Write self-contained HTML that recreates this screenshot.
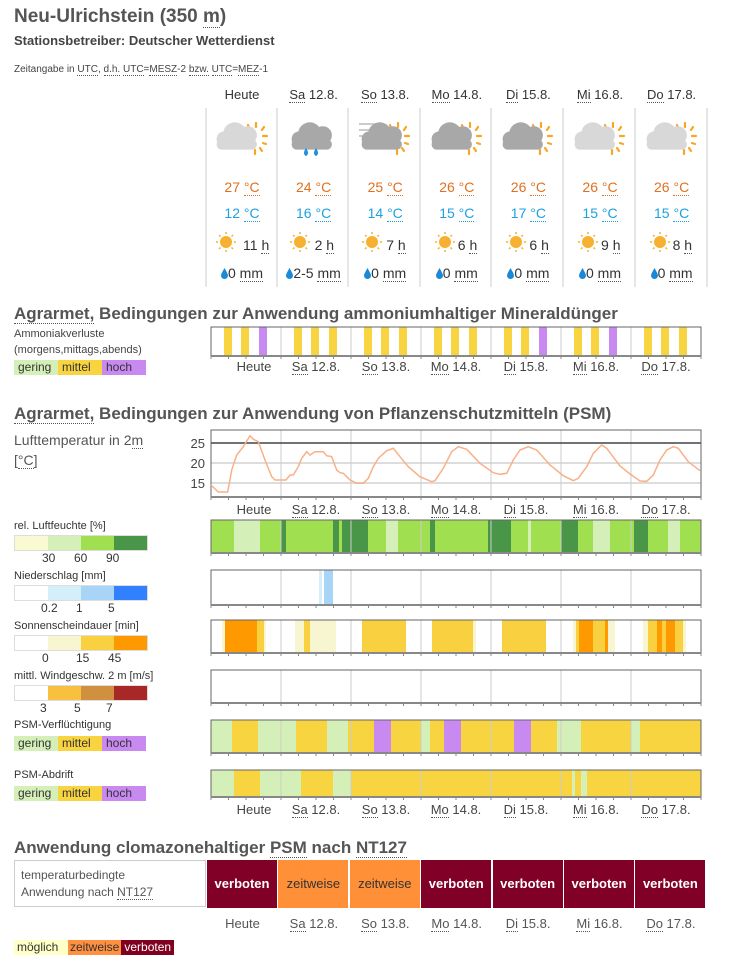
<!DOCTYPE html>
<html><head><meta charset="utf-8"><style>
body{margin:0;width:729px;height:970px;background:#fff;font-family:"Liberation Sans",Arial,sans-serif;color:#333;position:relative;overflow:hidden}
.a{position:absolute;white-space:nowrap}
u{text-decoration:none;border-bottom:1px dotted #555}
.c{position:absolute;text-align:center;white-space:nowrap}
.lg{position:absolute;height:15px;font-size:12px;line-height:15px}
.lg span{display:inline-block;height:15px;padding:0 4px;vertical-align:top}
.sc{position:absolute;height:14px;font-size:12px;border:1px solid #ddd}
.sc span{display:inline-block;width:33px;height:14px;vertical-align:top}
.sn{position:absolute;font-size:12px}
</style></head><body>
<div class="a" style="left:14px;top:6px;font-size:19px;font-weight:bold;color:#555">Neu-Ulrichstein (350 <u>m</u>)</div>
<div class="a" style="left:14px;top:33px;font-size:13px;font-weight:bold;color:#444">Stationsbetreiber: Deutscher Wetterdienst</div>
<div class="a" style="left:14px;top:64px;font-size:10px;color:#444">Zeitangabe in <u>UTC</u>, <u>d.h.</u> <u>UTC</u>=<u>MESZ</u>-2 <u>bzw.</u> <u>UTC</u>=<u>MEZ</u>-1</div>

<svg class="a" style="left:0;top:0" width="729" height="300">
<g stroke="#ddd" stroke-width="1.5">
<line x1="206" y1="108" x2="206" y2="287"/><line x1="277" y1="108" x2="277" y2="287"/><line x1="348" y1="108" x2="348" y2="287"/><line x1="420" y1="108" x2="420" y2="287"/><line x1="491" y1="108" x2="491" y2="287"/><line x1="563" y1="108" x2="563" y2="287"/><line x1="635" y1="108" x2="635" y2="287"/><line x1="707" y1="108" x2="707" y2="287"/>
</g>
<defs>
<g id="sun"><g stroke="#f8a820" stroke-width="2.2" stroke-linecap="round"><line x1="14" y1="-15" x2="14" y2="-11"/><line x1="22" y1="-11" x2="20" y2="-8"/><line x1="25" y1="-2" x2="21" y2="-2"/><line x1="24" y1="6" x2="21" y2="5"/><line x1="20" y1="13" x2="18" y2="10"/><line x1="13" y1="16" x2="13" y2="12"/><line x1="6" y1="-13" x2="7" y2="-10"/></g></g>
<g id="cl"><circle cx="-4" cy="0" r="9"/><circle cx="6" cy="1" r="7"/><circle cx="-12" cy="4" r="6"/><rect x="-18" y="4" width="31" height="8" rx="4"/></g>
<g id="ss"><circle r="6" fill="#f8b030"/><g stroke="#f8b030" stroke-width="1.5"><line x1="0" y1="-10" x2="0" y2="-8"/><line x1="0" y1="8" x2="0" y2="10"/><line x1="-10" y1="0" x2="-8" y2="0"/><line x1="8" y1="0" x2="10" y2="0"/><line x1="-7" y1="-7" x2="-5.5" y2="-5.5"/><line x1="7" y1="7" x2="5.5" y2="5.5"/><line x1="-7" y1="7" x2="-5.5" y2="5.5"/><line x1="7" y1="-7" x2="5.5" y2="-5.5"/></g></g>
</defs>
<use href="#sun" x="242" y="138"/><use href="#cl" transform="translate(240,134) scale(1.3)" fill="#d8d8d8"/>
<use href="#cl" transform="translate(315,134) scale(1.3)" fill="#a8a8a8"/><path d="M306 148q4 6 0 8q-4-2 0-8M316 148q4 6 0 8q-4-2 0-8" fill="#2090e0"/>
<use href="#sun" x="384" y="138"/><g stroke="#ccc" stroke-width="2"><line x1="359" y1="124" x2="383" y2="124"/><line x1="359" y1="130" x2="377" y2="130"/><line x1="359" y1="136" x2="370" y2="136"/></g><use href="#cl" transform="translate(385,134) scale(1.3)" fill="#a8a8a8"/>
<use href="#sun" x="456" y="138"/><use href="#cl" transform="translate(455,134) scale(1.3)" fill="#a8a8a8"/>
<use href="#sun" x="527" y="138"/><use href="#cl" transform="translate(526,134) scale(1.3)" fill="#a8a8a8"/>
<use href="#sun" x="599" y="138"/><use href="#cl" transform="translate(598,134) scale(1.3)" fill="#d8d8d8"/>
<use href="#sun" x="671" y="138"/><use href="#cl" transform="translate(670,134) scale(1.3)" fill="#d8d8d8"/>
<use href="#ss" x="226" y="242"/><use href="#ss" x="300" y="242"/><use href="#ss" x="372" y="242"/><use href="#ss" x="445" y="242"/><use href="#ss" x="516" y="242"/><use href="#ss" x="588" y="242"/><use href="#ss" x="660" y="242"/>
</svg>
<div id="fc"></div>
<script>
var d=["Heute","<u>Sa</u> 12.8.","<u>So</u> 13.8.","<u>Mo</u> 14.8.","<u>Di</u> 15.8.","<u>Mi</u> 16.8.","<u>Do</u> 17.8."],hi=[27,24,25,26,26,26,26],lo=[12,16,14,15,17,15,15],sh=[11,2,7,6,6,9,8],rr=["0","2-5","0","0","0","0","0"],h="";
var drop='<svg width="7" height="11" style="vertical-align:-1px"><path d="M3.5 0Q7 6 7 7.5A3.5 3.5 0 0 1 0 7.5Q0 6 3.5 0Z" fill="#1a8ad8"/></svg>';
for(var i=0;i<7;i++){var cx=242+i*71.6;
h+='<div class="c" style="left:'+(cx-40)+'px;width:80px;top:87px;font-size:13px">'+d[i]+'</div>';
h+='<div class="c" style="left:'+(cx-40)+'px;width:80px;top:179px;font-size:14px;color:#e07020">'+hi[i]+' <u style="border-color:#e07020">°C</u></div>';
h+='<div class="c" style="left:'+(cx-40)+'px;width:80px;top:205px;font-size:14px;color:#1ea0e0">'+lo[i]+' <u style="border-color:#1ea0e0">°C</u></div>';
h+='<div class="a" style="left:'+(cx+1)+'px;top:237px;font-size:14px;color:#333">'+sh[i]+' <u>h</u></div>';
h+='<div class="c" style="left:'+(cx-40)+'px;width:80px;top:265px;font-size:14px">'+drop+rr[i]+' <u>mm</u></div>';}
document.getElementById('fc').innerHTML=h;
</script>

<div class="a" style="left:14px;top:304px;font-size:17px;font-weight:bold;color:#555"><u>Agrarmet,</u> Bedingungen zur Anwendung ammoniumhaltiger Mineraldünger</div>
<div class="a" style="left:14px;top:328px;font-size:11px;color:#444">Ammoniakverluste</div>
<div class="a" style="left:14px;top:344px;font-size:11px;color:#444">(morgens,mittags,abends)</div>
<div class="lg" style="left:14px;top:360px"><span style="background:#d4f0b8;width:36px">gering</span><span style="background:#f8d440;width:36px">mittel</span><span style="background:#c88af0;width:36px">hoch</span></div>

<div class="a" style="left:14px;top:404px;font-size:17px;font-weight:bold;color:#555"><u>Agrarmet,</u> Bedingungen zur Anwendung von Pflanzenschutzmitteln (PSM)</div>
<div class="a" style="left:14px;top:430px;font-size:14px;color:#555;line-height:20px">Lufttemperatur in 2<u>m</u><br>[<u>°C</u>]</div>

<div class="a" style="left:14px;top:520px;font-size:11px">rel. Luftfeuchte [%]</div>
<div class="sc" style="left:14px;top:535px"><span style="background:#fafad2"></span><span style="background:#d4f0b8"></span><span style="background:#a0e050"></span><span style="background:#4a9648"></span></div>
<div class="sn" style="left:42px;top:551px">30</div><div class="sn" style="left:74px;top:551px">60</div><div class="sn" style="left:106px;top:551px">90</div>
<div class="a" style="left:14px;top:570px;font-size:11px">Niederschlag [mm]</div>
<div class="sc" style="left:14px;top:585px"><span style="background:#fff"></span><span style="background:#d4eefa"></span><span style="background:#a8d4f8"></span><span style="background:#3080ff"></span></div>
<div class="sn" style="left:41px;top:601px">0.2</div><div class="sn" style="left:76px;top:601px">1</div><div class="sn" style="left:108px;top:601px">5</div>
<div class="a" style="left:14px;top:620px;font-size:11px">Sonnenscheindauer [min]</div>
<div class="sc" style="left:14px;top:635px"><span style="background:#fff"></span><span style="background:#f8f6d0"></span><span style="background:#f8d040"></span><span style="background:#ff9900"></span></div>
<div class="sn" style="left:42px;top:651px">0</div><div class="sn" style="left:76px;top:651px">15</div><div class="sn" style="left:108px;top:651px">45</div>
<div class="a" style="left:14px;top:670px;font-size:11px">mittl. Windgeschw. 2 m [m/s]</div>
<div class="sc" style="left:14px;top:685px"><span style="background:#fff"></span><span style="background:#f8c040"></span><span style="background:#d09040"></span><span style="background:#a82828"></span></div>
<div class="sn" style="left:40px;top:701px">3</div><div class="sn" style="left:74px;top:701px">5</div><div class="sn" style="left:106px;top:701px">7</div>
<div class="a" style="left:14px;top:719px;font-size:11px">PSM-Verflüchtigung</div>
<div class="lg" style="left:14px;top:736px"><span style="background:#d4f0b8;width:36px">gering</span><span style="background:#f8d440;width:36px">mittel</span><span style="background:#c88af0;width:36px">hoch</span></div>
<div class="a" style="left:14px;top:769px;font-size:11px">PSM-Abdrift</div>
<div class="lg" style="left:14px;top:786px"><span style="background:#d4f0b8;width:36px">gering</span><span style="background:#f8d440;width:36px">mittel</span><span style="background:#c88af0;width:36px">hoch</span></div>

<svg id="ch" class="a" style="left:0;top:0" width="729" height="830"></svg>
<div id="lb"></div>

<div class="a" style="left:14px;top:838px;font-size:17px;font-weight:bold;color:#555">Anwendung clomazonehaltiger <u>PSM</u> nach <u>NT127</u></div>
<div class="a" style="left:14px;top:860px;width:192px;height:47px;border:1px solid #ccc;font-size:12px;color:#555;line-height:17px;padding:6px 0 0 6px;box-sizing:border-box">temperaturbedingte<br>Anwendung nach <u>NT127</u></div>
<div id="nt"></div>
<div class="lg" style="left:14px;top:940px"><span style="background:#ffffc8;width:48px;padding:0 3px">möglich</span><span style="background:#ff9040;color:#333;padding:0 2px">zeitweise</span><span style="background:#800020;color:#fff;padding:0 3px">verboten</span></div>

<script>
var g=document.getElementById('ch'),o='';
function R(x1,x2,y,h,c){o+='<rect x="'+x1+'" y="'+y+'" width="'+(x2-x1)+'" height="'+h+'" fill="'+c+'"/>';}
var L=211,W=490;
function frame(y,h){for(var k=1;k<7;k++)o+='<line x1="'+(L+k*70)+'" y1="'+y+'" x2="'+(L+k*70)+'" y2="'+(y+h)+'" stroke="#ccc" stroke-width="1"/>';
o+='<path d="M'+L+' '+(y+h)+'V'+y+'H'+(L+W)+'V'+(y+h)+'" fill="none" stroke="#666" stroke-width="1"/><line x1="'+L+'" y1="'+(y+h)+'" x2="'+(L+W)+'" y2="'+(y+h)+'" stroke="#888" stroke-width="2"/>';
for(var t=0;t<=28;t++)o+='<line x1="'+(L+t*17.5)+'" y1="'+(y+h)+'" x2="'+(L+t*17.5)+'" y2="'+(y+h+3)+'" stroke="#888"/>';}
function strip(y,h,segs){for(var i=0;i<segs.length;i++)R(segs[i][0],segs[i][1],y,h,segs[i][2]);frame(y,h);}
var Y='#f8d440',G='#d4f0b8',P='#c88af0';
var am=[];for(var dd=0;dd<7;dd++){var b=L+dd*70;var cs=[Y,Y,Y];if(dd==0||dd==4||dd==5)cs[2]=P;am.push([b+13,b+21,cs[0]],[b+30,b+38,cs[1]],[b+48,b+56,cs[2]]);}
strip(327,29,am);
o+='<line x1="'+L+'" y1="463" x2="701" y2="463" stroke="#ddd" stroke-width="2"/><line x1="'+L+'" y1="483" x2="701" y2="483" stroke="#ddd" stroke-width="2"/>';
frame(430,67);
o+='<line x1="'+L+'" y1="443" x2="701" y2="443" stroke="#444" stroke-width="1.5"/>';
o+='<text x="205" y="448" font-size="13" text-anchor="end" fill="#444">25</text><text x="205" y="468" font-size="13" text-anchor="end" fill="#444">20</text><text x="205" y="488" font-size="13" text-anchor="end" fill="#444">15</text>';
var p=[33,495,55,516,83,516,95,450,110,405,130,380,150,347,160,358,175,365,195,420,215,470,225,480,258,480,270,465,280,465,295,440,305,415,320,395,330,405,345,395,370,395,380,407,395,410,410,450,420,458,430,460,440,470,450,480,470,490,490,490,505,475,520,440,535,415,560,392,580,385,600,410,625,440,660,470,695,485,705,482,730,445,755,395,775,380,800,388,840,430,880,458,900,463,920,460,940,420,960,390,985,380,1010,390,1050,435,1090,467,1120,482,1135,475,1160,440,1180,400,1205,375,1220,385,1260,438,1290,462,1320,483,1340,484,1360,465,1380,420,1400,390,1420,380,1435,385,1465,425,1500,452];
var pts=[];for(var i=0;i<p.length;i+=2)pts.push((200+p[i]/3).toFixed(1)+','+(320+p[i+1]/3).toFixed(1));
o+='<polyline points="'+pts.join(' ')+'" fill="none" stroke="#f8b088" stroke-width="1.5"/>';
var LG='#a0e050',PA='#d4f0b8',DK='#4a9648';
strip(520,33,[[211,234,LG],[234,260,PA],[260,281,LG],[281,286,DK],[286,333,LG],[333,339,DK],[339,342,LG],[342,368,DK],[368,386,LG],[386,398,PA],[398,430,LG],[430,435,DK],[435,488,LG],[488,511,DK],[511,528,LG],[528,531,PA],[531,561,LG],[561,578,DK],[578,593,LG],[593,610,PA],[610,634,LG],[634,648,DK],[648,668,LG],[668,680,PA],[680,701,LG]]);
strip(570,35,[[319,322,'#d4eefa'],[324,333,'#a8d4f8']]);
var PY='#f8f6d0',SY='#f8d040',OR='#ff9900';
strip(620,33,[[222,225,PY],[225,257,OR],[257,264,SY],[264,266,PY],[295,304,PY],[304,310,SY],[310,336,PY],[362,406,SY],[432,473,SY],[473,476,PY],[502,546,SY],[573,576,PY],[576,579,SY],[579,593,OR],[593,605,SY],[605,608,OR],[608,615,PY],[643,648,PY],[648,657,SY],[657,662,OR],[662,666,SY],[666,675,OR],[675,683,SY],[683,686,PY]]);
strip(670,33,[]);
strip(720,33,[[211,232,G],[232,258,Y],[258,296,G],[296,327,Y],[327,348,G],[348,374,Y],[374,391,P],[391,421,Y],[421,430,G],[430,444,Y],[444,461,P],[461,514,Y],[514,531,P],[531,557,Y],[557,581,G],[581,631,Y],[631,640,G],[640,701,Y]]);
strip(770,27,[[211,234,G],[234,260,Y],[260,301,G],[301,333,Y],[333,351,G],[351,572,Y],[572,575,G],[575,581,Y],[581,587,G],[587,701,Y]]);
g.innerHTML=o;
var lb='';
[367,510,810].forEach(function(y){for(var i=0;i<7;i++){var cx=(i==0?254:L+35+i*70);lb+='<div class="c" style="left:'+(cx-40)+'px;width:80px;top:'+(y-8)+'px;font-size:13px;color:#444">'+d[i]+'</div>';}});
document.getElementById('lb').innerHTML=lb;
var st=['v','z','z','v','v','v','v'],nt='';
for(var i=0;i<7;i++){var x=207+i*71.4;var v=st[i]=='v';
nt+='<div class="c" style="left:'+x+'px;top:860px;width:71px;height:48px;line-height:48px;font-size:13px;'+(v?'background:#800028;color:#fff;font-weight:bold':'background:#ff9038;color:#333')+';border-right:1px solid #fff;box-sizing:border-box">'+(v?'verboten':'zeitweise')+'</div>';
nt+='<div class="c" style="left:'+x+'px;width:71px;top:916px;font-size:13px;color:#555">'+d[i]+'</div>';}
document.getElementById('nt').innerHTML=nt;
</script>
</body></html>
